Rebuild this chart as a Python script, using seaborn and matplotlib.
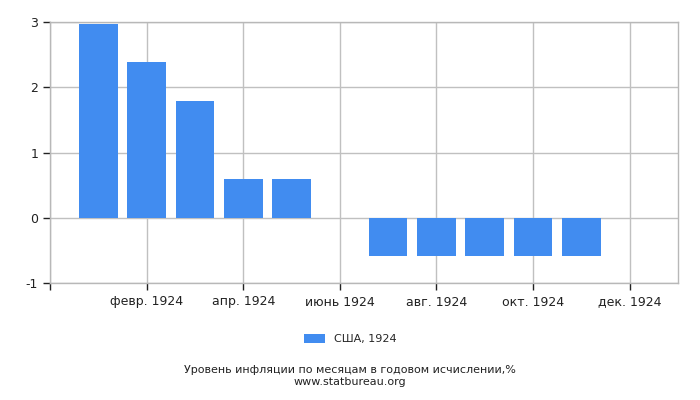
import pandas as pd
import matplotlib
matplotlib.use('Agg')
import matplotlib.pyplot as plt
import seaborn as sns

# Monthly inflation values (USA, 1924)
months = list(range(12))
values = [2.97, 2.38, 1.79, 0.60, 0.60, 0.0, -0.58, -0.58, -0.58, -0.58, -0.58, 0.0]
tick_pos = [-1, 1, 3, 5, 7, 9, 11]
tick_labels = ['', 'февр. 1924', 'апр. 1924', 'июнь 1924', 'авг. 1924', 'окт. 1924', 'дек. 1924']
y_ticks = [-1, 0, 1, 2, 3]
series_name = 'США, 1924'

df = pd.DataFrame({'month': months, 'value': values})

sns.set_style('white')
plt.rcParams['font.family'] = ['DejaVu Sans']

fig = plt.figure(figsize=(7, 4), dpi=100)
ax = fig.add_axes([0.0714, 0.2925, 0.8972, 0.6525])

sns.barplot(x='month', y='value', data=df, native_scale=True, width=0.8,
            color='#418cf0', saturation=1, ax=ax, label=series_name,
            linewidth=0, zorder=3)

ax.set_xlim(-1, 12)
ax.set_ylim(-1, 3)
ax.set_xticks(tick_pos)
ax.set_xticklabels(tick_labels, fontsize=9)
ax.set_yticks(y_ticks)
ax.set_yticklabels([str(v) for v in y_ticks], fontsize=9)
ax.set_xlabel('')
ax.set_ylabel('')
ax.grid(True, color='#c0c0c0', linewidth=1, zorder=0)
ax.set_axisbelow(True)
for s in ax.spines.values():
    s.set_color('#b8b8b8')
    s.set_linewidth(1)
ax.tick_params(axis='both', direction='out', length=5, width=1, color='#222222',
               labelcolor='#222222', bottom=True, left=True)
ax.tick_params(axis='x', pad=4)

if ax.legend_:
    ax.legend_.remove()
handles, labels = ax.get_legend_handles_labels()
fig.legend(handles[:1], labels[:1], loc='center', bbox_to_anchor=(0.5, 0.152),
           frameon=False, fontsize=8, handlelength=1.9, handleheight=0.9)

fig.text(0.5, 0.075, 'Уровень инфляции по месяцам в годовом исчислении,%',
         ha='center', va='center', fontsize=8, color='#222222')
fig.text(0.5, 0.046, 'www.statbureau.org', ha='center', va='center',
         fontsize=8, color='#222222')

fig.savefig('out.png', dpi=100)
